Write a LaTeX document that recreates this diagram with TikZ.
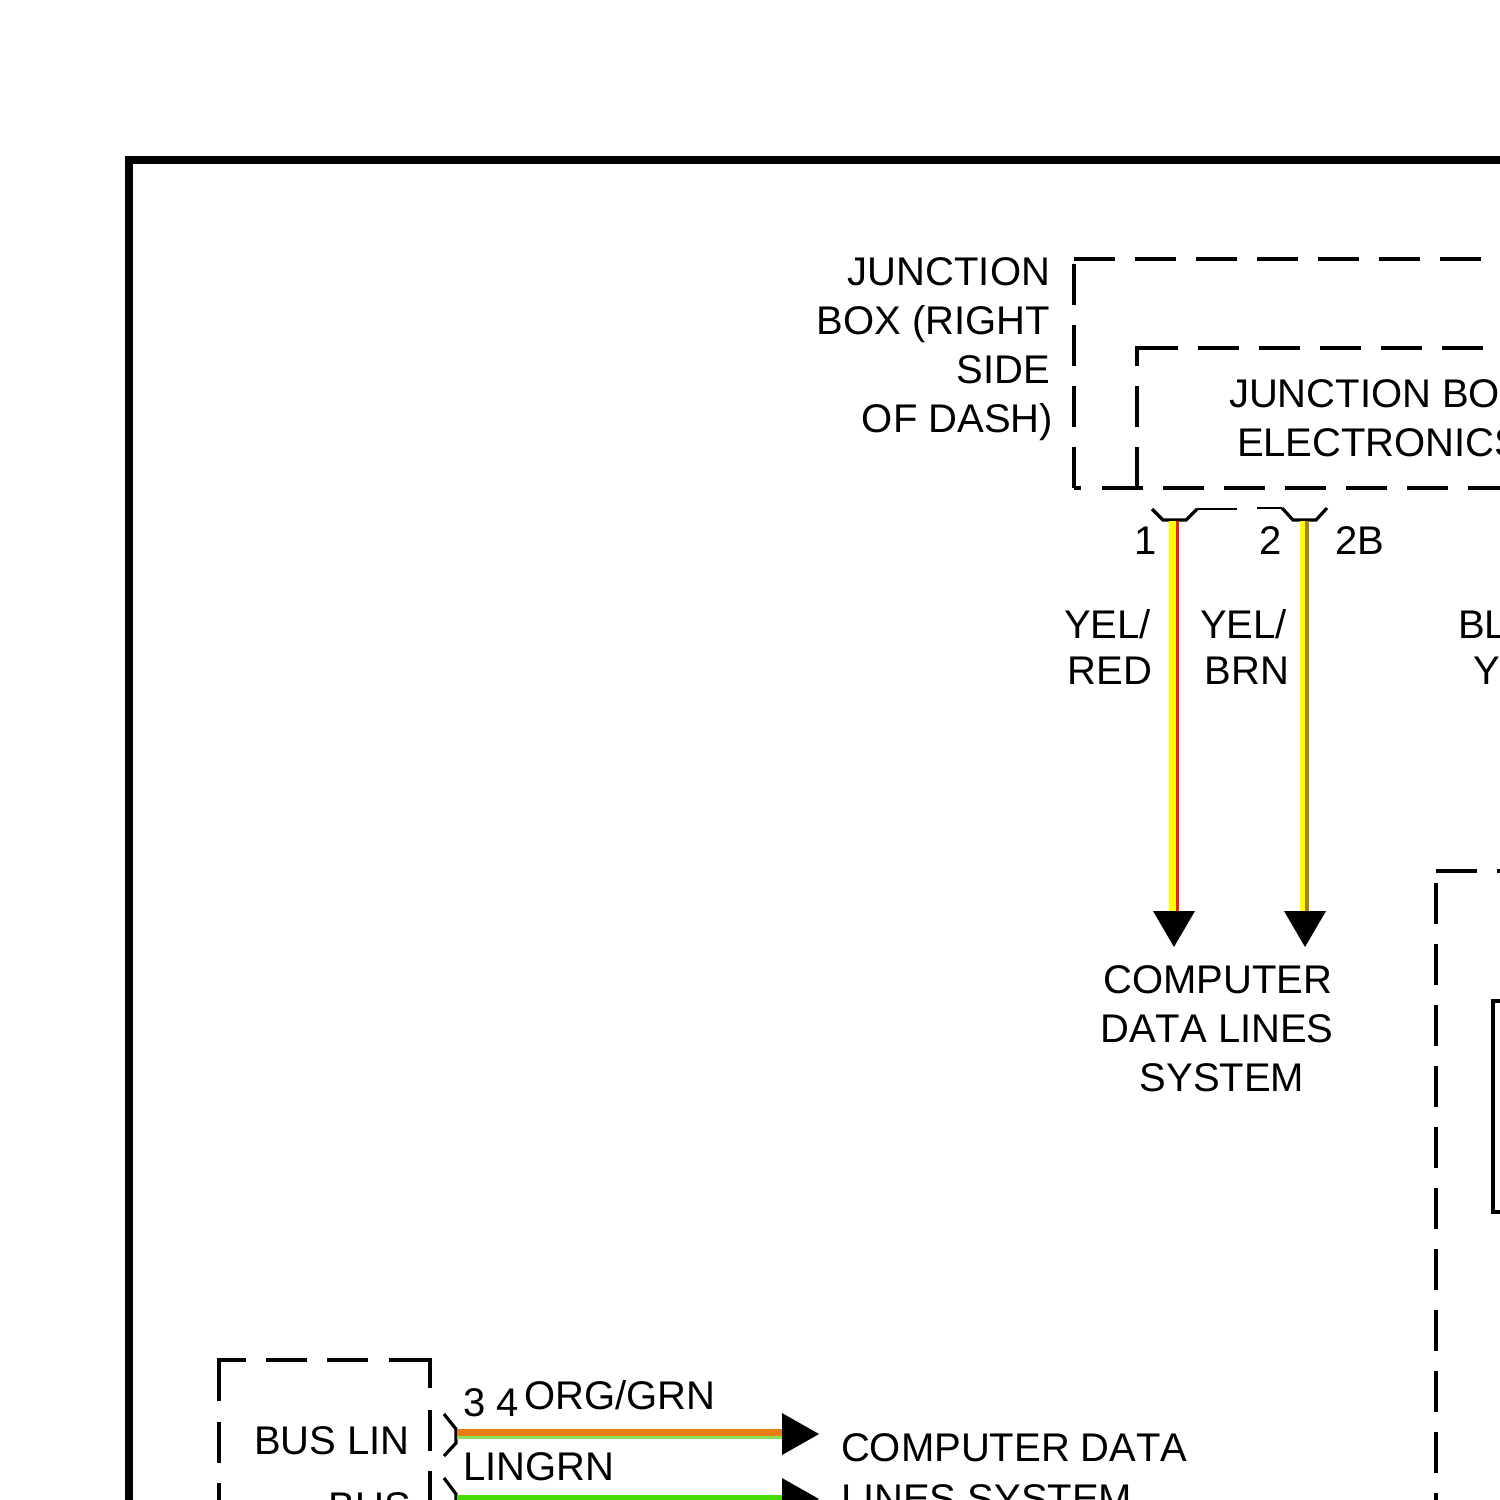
\documentclass[tikz,border=0pt]{standalone}
\usepackage{fontspec}
\setmainfont[Kerning=Off]{Liberation Sans}
\tikzset{
  px/.style={x=0.5pt,y=-0.5pt},
  lbl/.style={inner sep=0pt,outer sep=0pt,font=\fontsize{20}{24}\selectfont,text=black},
  frame/.style={draw=black,line width=4pt,line cap=rect},
  dbox/.style={draw=black,line width=1.7pt,dash pattern=on 20.5pt off 10pt},
  solidbox/.style={draw=black,line width=1.7pt},
  conn/.style={draw=black,line width=1.6pt},
  thinconn/.style={draw=black,line width=0.7pt},
  tip/.style={fill=black,draw=none},
}
\definecolor{wyel}{RGB}{255,255,0}
\definecolor{wred}{RGB}{235,30,30}
\definecolor{wbrn}{RGB}{170,130,20}
\definecolor{worg}{RGB}{232,125,20}
\definecolor{wgrn}{RGB}{70,220,10}
\definecolor{wlgr}{RGB}{140,225,90}
\begin{document}
\begin{tikzpicture}[px]
\useasboundingbox (0,0) rectangle (1500,1500);
\clip (0,0) rectangle (1500,1500);
\fill[white] (0,0) rectangle (1500,1500);
% outer frame
\draw[frame] (1520,160) -- (129,160) -- (129,1520);
% dashed boxes: outer junction box
\draw[dbox] (1074,259) -- (1520,259);
\draw[dbox] (1074,264) -- (1074,488);
\draw[solidbox] (1074,488) -- (1081,488);
\draw[dbox] (1102,488) -- (1520,488);
% inner junction box
\draw[solidbox] (1137,366) -- (1137,348) -- (1178,348);
\draw[dbox] (1198,348) -- (1520,348);
\draw[dbox] (1137,386) -- (1137,488);
% right box
\draw[dbox] (1436,871) -- (1520,871);
\draw[dbox] (1436,883) -- (1436,1520);
\draw[solidbox] (1510,1001) -- (1493,1001) -- (1493,1212) -- (1510,1212);
% bus box
\draw[solidbox] (219,1401) -- (219,1360) -- (246,1360);
\draw[dbox] (266,1360) -- (369,1360);
\draw[solidbox] (389,1360) -- (430,1360) -- (430,1388);
\draw[dbox] (219,1422) -- (219,1520);
\draw[dbox] (430,1410) -- (430,1520);
% connector shells
\draw[conn] (1152,509) -- (1163,520) -- (1186,520) -- (1197,509);
\draw[thinconn] (1197,509) -- (1237,509);
\draw[thinconn] (1257,508) -- (1282,508);
\draw[conn] (1282,508) -- (1293,520) -- (1316,520) -- (1327,508);
\draw[conn] (444,1414) -- (456,1429) -- (456,1443) -- (444,1456);
\draw[conn] (444,1478) -- (456,1494) -- (456,1510);
% wire end points
\coordinate (w1t) at (1174,521);
\coordinate (w1b) at (1174,911);
\coordinate (w2t) at (1305,521);
\coordinate (w2b) at (1305,911);
\coordinate (w3l) at (457,1433);
\coordinate (w3r) at (782,1433);
\coordinate (w4l) at (457,1502);
\coordinate (w4r) at (782,1502);
% wires
\draw[wyel,line width=3.25pt] ([xshift=-0.875pt]w1t) -- ([xshift=-0.875pt]w1b);
\draw[wred,line width=1.75pt] ([xshift=1.625pt]w1t) -- ([xshift=1.625pt]w1b);
\draw[wyel,line width=2.5pt] ([xshift=-1.25pt]w2t) -- ([xshift=-1.25pt]w2b);
\draw[wbrn,line width=2pt] ([xshift=1pt]w2t) -- ([xshift=1pt]w2b);
\draw[worg,line width=3.5pt] ([yshift=0.25pt]w3l) -- ([yshift=0.25pt]w3r);
\draw[wlgr,line width=1.5pt] ([yshift=-2.25pt]w3l) -- ([yshift=-2.25pt]w3r);
\draw[wgrn,line width=7.5pt] (w4l) -- (w4r);
% arrow tips
\fill[tip] (w1b) ++(-21,0) -- ++(42,0) -- ++(-21,36) -- cycle;
\fill[tip] (w2b) ++(-21,0) -- ++(42,0) -- ++(-21,36) -- cycle;
\fill[tip] (w3r) ++(0,-20) -- ++(37,21) -- ++(-37,21) -- cycle;
\fill[tip] (w4r) ++(0,-24) -- ++(37,21) -- ++(-37,21) -- cycle;
% labels
\node[lbl,anchor=base east] (jb1) at (1050,285) {JUNCTION};
\node[lbl,anchor=base east] (jb2) at (1050,334) {BOX (RIGHT};
\node[lbl,anchor=base east] (jb3) at (1050,383) {SIDE};
\node[lbl,anchor=base east] (jb4) at (1053,432) {OF DASH)};
\node[lbl,anchor=base west] (je1) at (1229,407) {JUNCTION BOX};
\node[lbl,anchor=base west] (je2) at (1237,456) {ELECTRONICS};
\node[lbl,anchor=base east] (p1) at (1157,554) {1};
\node[lbl,anchor=base east] (p2) at (1282,554) {2};
\node[lbl,anchor=base west] (p3) at (1335,554) {2B};
\node[lbl,anchor=base east] (c1) at (1151,638) {YEL/};
\node[lbl,anchor=base east] (c2) at (1152,684) {RED};
\node[lbl,anchor=base east] (c3) at (1287,638) {YEL/};
\node[lbl,anchor=base east] (c4) at (1289,684) {BRN};
\node[lbl,anchor=base west] (c5) at (1458,638) {BL};
\node[lbl,anchor=base west] (c6) at (1473,684) {Y};
\node[lbl,anchor=base] (d1) at (1218,993) {COMPUTER};
\node[lbl,anchor=base] (d2) at (1217,1042) {DATA LINES};
\node[lbl,anchor=base] (d3) at (1222,1091) {SYSTEM};
\node[lbl,anchor=base west] (b1) at (254,1454) {BUS LIN};
\node[lbl,anchor=base east] (b2) at (411,1520) {BUS};
\node[lbl,anchor=base west] (n3) at (463,1416) {3};
\node[lbl,anchor=base west] (n4) at (496,1416) {4};
\node[lbl,anchor=base west] (w1) at (524,1409) {ORG/GRN};
\node[lbl,anchor=base west] (w2) at (463,1480) {LINGRN};
\node[lbl,anchor=base west] (e1) at (841,1461) {COMPUTER DATA};
\node[lbl,anchor=base west] (e2) at (841,1512) {LINES SYSTEM};
\end{tikzpicture}
\end{document}
